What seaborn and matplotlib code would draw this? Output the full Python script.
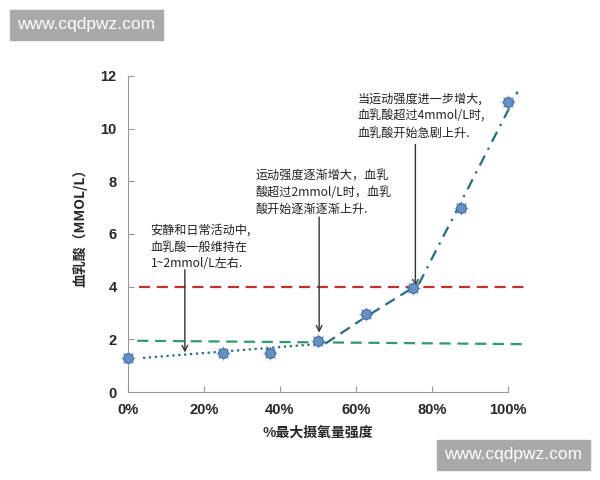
import matplotlib
matplotlib.use('Agg')
import matplotlib.pyplot as plt
import seaborn as sns
import pandas as pd
from matplotlib.ticker import PercentFormatter
from matplotlib.patches import Rectangle

# 测量点
intensity = [0.0, 0.25, 0.375, 0.50, 0.625, 0.75, 0.875, 1.0]
lactate = [1.3, 1.5, 1.5, 1.95, 2.95, 3.95, 7.0, 11.0]

# 趋势线分段
low_x = [0.04, 0.52]
low_y = [1.3, 1.85]
mid_x = [0.52, 0.625, 0.765]
mid_y = [1.85, 2.85, 4.1]
high_x = [0.765, 1.025]
high_y = [4.1, 11.4]

# 参考线
green_x = [0.025, 1.05]
green_y = [1.95, 1.82]
red_x = [0.03, 1.05]
red_y = [4.0, 4.0]

notes = [
    '安静和日常活动中,\n血乳酸一般维持在\n1~2mmol/L左右.',
    '运动强度逐渐增大，血乳\n酸超过2mmol/L时，血乳\n酸开始逐渐逐渐上升.',
    '当运动强度进一步增大,\n血乳酸超过4mmol/L时,\n血乳酸开始急剧上升.',
]
note_pos = [(0.06, 6.4), (0.335, 8.45), (0.605, 11.35)]
arrow_x = [0.15, 0.503, 0.756]
arrow_top = [4.75, 6.75, 9.5]
arrow_tip = [1.4, 2.15, 3.9]

sns.set_style('white')
plt.rcParams['font.family'] = ['Liberation Sans', 'Noto Sans CJK SC', 'DejaVu Sans']

fig = plt.figure(figsize=(6, 4.8), dpi=100)
ax = fig.add_axes([0.213, 0.183, 0.634, 0.659])

teal = '#236E80'
sns.lineplot(x=low_x, y=low_y, ax=ax, color=teal, lw=1.6, linestyle=':')
sns.lineplot(x=mid_x, y=mid_y, ax=ax, color=teal, lw=1.6, linestyle=(0, (5, 3)))
sns.lineplot(x=high_x, y=high_y, ax=ax, color=teal, lw=1.6, linestyle=(0, (5, 3, 1, 3)))
for line in ax.lines:
    line.set_clip_on(False)
ref1 = ax.plot(green_x, green_y, color='#2F9B6A', lw=1.6, linestyle=(0, (5, 3)))
ref2 = ax.plot(red_x, red_y, color='#C2302E', lw=1.6, linestyle=(0, (5, 3)))
for l in ref1 + ref2:
    l.set_clip_on(False)

df = pd.DataFrame({'x': intensity, 'y': lactate})
sns.scatterplot(data=df, x='x', y='y', ax=ax, s=50, color='#6690C4',
                edgecolor='#4470A0', linewidth=0.8, zorder=5, clip_on=False)
sns.scatterplot(data=df, x='x', y='y', ax=ax, s=85, marker=(8, 2, 0),
                color='#8AABD3', linewidth=0.8, zorder=4, clip_on=False)

for txt, (tx, ty) in zip(notes, note_pos):
    ax.text(tx, ty, txt, fontsize=8.7, family=['Noto Sans CJK SC', 'DejaVu Sans'],
            va='top', ha='left', color='#222222', linespacing=1.4)
for axx, top, tip in zip(arrow_x, arrow_top, arrow_tip):
    ax.annotate('', xy=(axx, tip), xytext=(axx, top),
                arrowprops=dict(arrowstyle='->', color='#333333', lw=1.0))

ax.set_xlim(0, 1)
ax.set_ylim(0, 12)
ax.set_xticks([0, 0.2, 0.4, 0.6, 0.8, 1.0])
ax.set_yticks(range(0, 13, 2))
ax.xaxis.set_major_formatter(PercentFormatter(1.0, decimals=0))
ax.tick_params(axis='both', direction='in', length=4, color='#999999',
               labelsize=10.5, bottom=True, left=True, pad=8)
for lab in ax.get_xticklabels() + ax.get_yticklabels():
    lab.set_fontweight('bold')
for side in ['top', 'right']:
    ax.spines[side].set_visible(False)
for side in ['left', 'bottom']:
    ax.spines[side].set_color('#999999')
    ax.spines[side].set_linewidth(0.8)

ax.set_xlabel('%最大摄氧量强度', fontsize=10, fontweight='bold',
              family=['Noto Sans CJK SC', 'DejaVu Sans'], labelpad=6)
ax.set_ylabel('血乳酸（MMOL/L）', fontsize=10, fontweight='bold',
              family=['Noto Sans CJK SC', 'DejaVu Sans'], labelpad=5)
ax.yaxis.set_label_coords(-0.105, 0.53)

# 水印
for (bx, by) in [(10, 440), (437, 10)]:
    fig.patches.append(Rectangle((bx / 600, by / 480), 153 / 600, 30 / 480,
                                 transform=fig.transFigure, color='#A9A9A9', zorder=10))
    fig.text((bx + 76.5) / 600, (by + 15) / 480, 'www.cqdpwz.com', color='white',
             fontsize=12.5, ha='center', va='center', zorder=11)

fig.savefig('out.png', dpi=100)
